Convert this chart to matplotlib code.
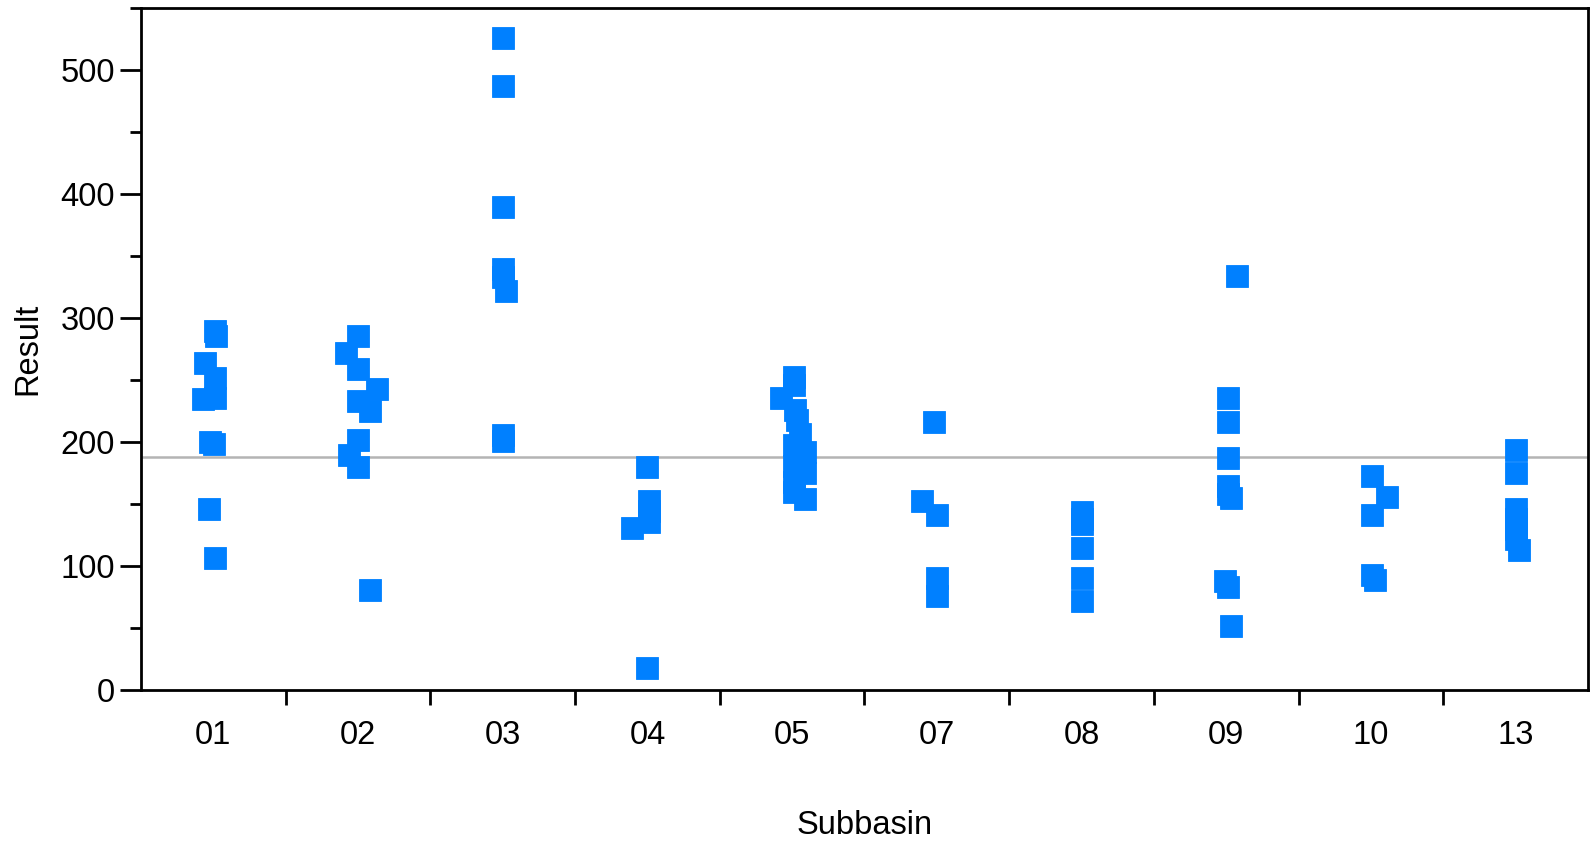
import numpy as np
import matplotlib.pyplot as plt
from matplotlib.ticker import MultipleLocator, FixedLocator

plt.rcParams['font.family'] = ['Liberation Sans', 'DejaVu Sans']

# category labels
subbasins = ['01', '02', '03', '04', '05', '07', '08', '09', '10', '13']

# result values per subbasin and horizontal jitter
sub01 = [290, 286, 264, 252, 236, 235, 200, 199, 146, 107]
jit01 = [0.01, 0.02, -0.055, 0.01, 0.01, -0.07, -0.02, 0.005, -0.03, 0.01]
sub02 = [286, 272, 259, 243, 233, 225, 202, 190, 180, 81]
jit02 = [0, -0.08, 0, 0.13, 0, 0.085, 0, -0.06, 0, 0.085]
sub03 = [526, 487, 390, 340, 333, 322, 206, 201]
jit03 = [0, 0, 0, 0, 0, 0.02, 0, 0]
sub04 = [180, 153, 145, 136, 131, 18]
jit04 = [0, 0.01, 0.01, 0.01, -0.11, 0]
sub05 = [253, 246, 236, 226, 218, 207, 198, 192, 187, 181, 175, 168, 160, 154]
jit05 = [0.01, 0.01, -0.075, 0.02, 0.035, 0.055, 0.01, 0.09, 0.06, 0.01, 0.09, 0.01, 0.01, 0.09]
sub07 = [216, 153, 141, 91, 76]
jit07 = [-0.02, -0.1, 0, 0, 0]
sub08 = [144, 138, 134, 115, 91, 72]
jit08 = [0, 0, 0, 0, 0, 0]
sub09 = [334, 236, 216, 187, 165, 158, 155, 88, 83, 52]
jit09 = [0.075, 0.015, 0.015, 0.015, 0.015, 0.015, 0.03, -0.01, 0.015, 0.035]
sub10 = [173, 156, 141, 93, 89]
jit10 = [0.01, 0.11, 0.01, 0.01, 0.03]
sub13 = [194, 175, 146, 138, 130, 122, 113]
jit13 = [0.005, 0.005, 0.005, 0.005, 0.005, 0.005, 0.025]

mean_result = 188.5

groups = [sub01, sub02, sub03, sub04, sub05, sub07, sub08, sub09, sub10, sub13]
jitters = [jit01, jit02, jit03, jit04, jit05, jit07, jit08, jit09, jit10, jit13]

fig = plt.figure(figsize=(15.9, 8.43), dpi=100)
ax = fig.add_axes([0.0887, 0.181, 0.9100, 0.8095])

# mean line
ax.axhline(mean_result, color='#b4b4b4', lw=1.8, zorder=1)

for i, (vals, jit) in enumerate(zip(groups, jitters)):
    x = i + np.array(jit)
    ax.plot(x, vals, linestyle='none', marker='s', markersize=16.5,
            color='#0080FF', markeredgecolor='#0080FF', markeredgewidth=0.6, zorder=3)

ax.set_xlim(-0.5, len(subbasins) - 0.5)
ax.set_ylim(0, 550)

ax.set_xticks(range(len(subbasins)))
ax.set_xticklabels(subbasins)
ax.xaxis.set_minor_locator(FixedLocator(np.arange(0.5, len(subbasins) - 1, 1.0)))
ax.tick_params(axis='x', which='major', length=0, pad=21, labelsize=23.5)
ax.tick_params(axis='x', which='minor', length=11, width=2, direction='out')

ax.yaxis.set_major_locator(MultipleLocator(100))
ax.yaxis.set_minor_locator(MultipleLocator(50))
ax.tick_params(axis='y', which='major', length=15, width=2, pad=4, labelsize=23.5)
ax.tick_params(axis='y', which='minor', length=8, width=2)

for s in ax.spines.values():
    s.set_linewidth(2)
    s.set_color('black')

ax.set_xlabel('Subbasin', fontsize=23.5, labelpad=43)
ax.set_ylabel('Result', fontsize=23.5, labelpad=12)

fig.savefig('out.png', dpi=100)
